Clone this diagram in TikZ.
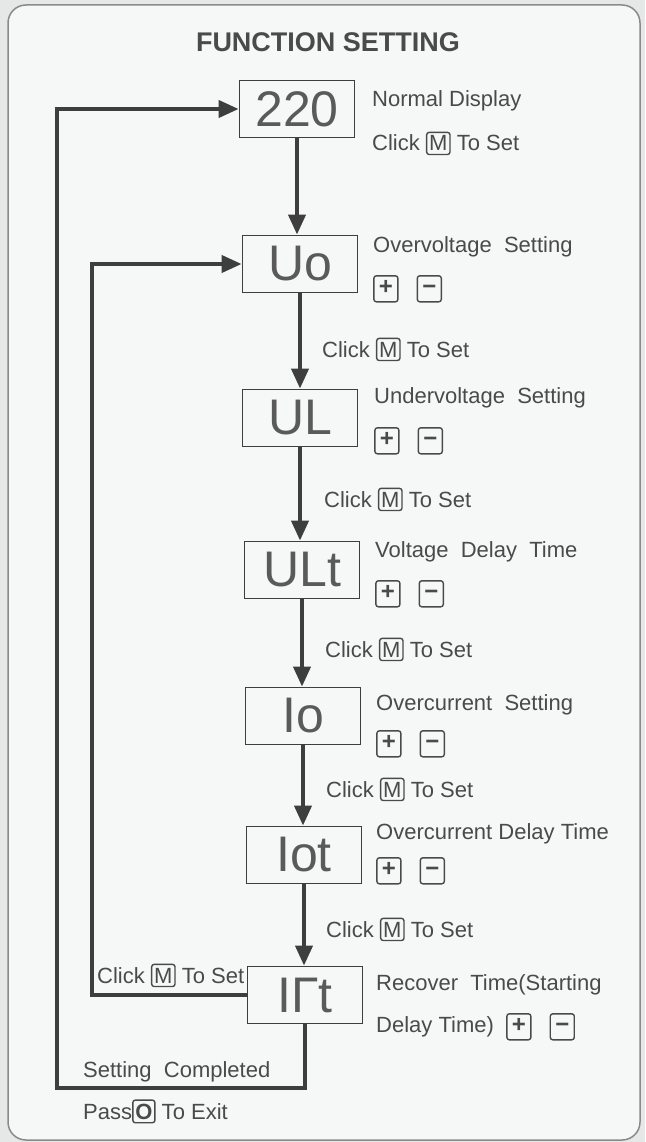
\documentclass[tikz,border=0pt]{standalone}
\usepackage{fontspec}
\setmainfont{Liberation Sans}
\usetikzlibrary{arrows.meta}
\definecolor{txt}{HTML}{4A4A4A}
\definecolor{dtxt}{HTML}{5A5A5A}
\definecolor{ln}{HTML}{3E3E3E}
\definecolor{bg}{HTML}{F6F7F7}
\definecolor{pagebg}{HTML}{E6E7E7}
\definecolor{framec}{HTML}{8A8A8A}
\newcommand\kk[1]{\tikz[baseline=(kb.base)]\node[draw=txt,line width=1.4pt,rounded corners=2.5pt,inner xsep=2.5pt,inner ysep=3.5pt,text=txt](kb){#1};}
\newcommand\sq[1]{\tikz[baseline=(kq.base)]\node[draw=txt,line width=1.4pt,rounded corners=2.5pt,minimum width=24pt,minimum height=25pt,inner sep=0pt,text=txt,font=\bfseries\fontsize{24}{26}\selectfont](kq){\strut#1};}
\newcommand\plusminus{\sq{+}\hspace{18pt}\sq{−}}
\tikzset{
 lbl/.style={anchor=base west, text=txt, font=\fontsize{22}{26}\selectfont, inner sep=0pt},
 disp/.style={draw=ln, line width=1.8pt, minimum width=115pt, minimum height=57pt, text=dtxt, font=\fontsize{50}{50}\selectfont, inner sep=0pt},
 flow/.style={draw=ln, line width=4pt, -{Triangle[length=20pt,width=17pt]}},
}
\begin{document}
\begin{tikzpicture}[x=1pt,y=-1pt]
\useasboundingbox (0,0) rectangle (645,1142);
\fill[pagebg] (0,0) rectangle (645,1142);
\draw[framec, line width=1.5pt, fill=bg, rounded corners=18pt] (8,5) rectangle (640,1140);
\node[anchor=base, text=txt, font=\bfseries\fontsize{27}{30}\selectfont, inner sep=0pt] (title) at (328,52) {FUNCTION SETTING};

\node[disp] (d1) at (297,109) {220};
\node[disp] (d2) at (300,264) {Uo};
\node[disp] (d3) at (300,418) {UL};
\node[disp] (d4) at (302,570) {ULt};
\node[disp] (d5) at (303,716) {Io};
\node[disp] (d6) at (304,855) {Iot};
\node[disp] (d7) at (305,995) {IΓt};

\node[lbl] (l1a) at (372,107) {Normal Display};
\node[lbl] (l1b) at (372,151) {Click \kk{M} To Set};
\node[lbl] (l2a) at (373,252) {Overvoltage\ \ Setting};
\node[lbl] (l2b) at (373,294) {\plusminus};
\node[lbl] (c23) at (322,357) {Click \kk{M} To Set};
\node[lbl] (l3a) at (374,403) {Undervoltage\ \ Setting};
\node[lbl] (l3b) at (374,446) {\plusminus};
\node[lbl] (c34) at (324,507) {Click \kk{M} To Set};
\node[lbl] (l4a) at (375,557) {Voltage\ \ Delay\ \ Time};
\node[lbl] (l4b) at (375,599) {\plusminus};
\node[lbl] (c45) at (325,657) {Click \kk{M} To Set};
\node[lbl] (l5a) at (376,710) {Overcurrent\ \ Setting};
\node[lbl] (l5b) at (376,749) {\plusminus};
\node[lbl] (c56) at (326,797) {Click \kk{M} To Set};
\node[lbl] (l6a) at (376,839) {Overcurrent Delay Time};
\node[lbl] (l6b) at (376,876) {\plusminus};
\node[lbl] (c67) at (326,937) {Click \kk{M} To Set};
\node[lbl] (cl) at (97,983) {Click \kk{M} To Set};
\node[lbl] (l7a) at (376,990) {Recover\ \ Time(Starting};
\node[lbl] (l7b) at (376,1032) {Delay Time)\ \ \plusminus};
\node[lbl] (sc) at (83,1077) {Setting\ \ Completed};
\node[lbl] (px) at (83,1119) {Pass\kk{\textbf{O}} To Exit};

\draw[flow] (d1.south) -- (d1.south |- d2.north);
\draw[flow] (d2.south) -- (d2.south |- d3.north);
\draw[flow] (d3.south) -- (d3.south |- d4.north);
\draw[flow] (d4.south) -- (d4.south |- d5.north);
\draw[flow] (d5.south) -- (d5.south |- d6.north);
\draw[flow] (d6.south) -- (d6.south |- d7.north);

\coordinate (ob) at (57,1088);
\coordinate (ib) at (92,995);
\draw[flow] (d7.south) |- (ob) -- (ob |- d1.west) -- (d1.west);
\draw[flow] (d7.west) -- (ib |- d7.west) -- (ib |- d2.west) -- (d2.west);
\end{tikzpicture}
\end{document}
